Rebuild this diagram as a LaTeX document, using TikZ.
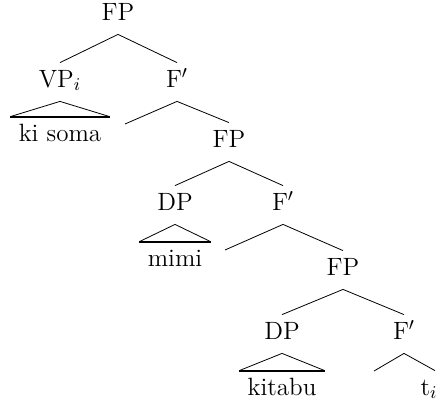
\documentclass[tikz,border=0pt]{standalone}
\usepackage{amsmath}
\usetikzlibrary{positioning,calc}

\begin{document}
\begin{tikzpicture}[x=0.5pt,y=-0.5pt,
        cat/.style={anchor=base, font=\fontsize{12.5}{15}\selectfont, inner ysep=0pt, inner xsep=4pt, text height=12pt, text depth=7pt},
        roof/.style={line width=1.1pt}]
        \useasboundingbox (0,0) rectangle (438,402);
        \clip (0,0) rectangle (438,402);
        % categories
        \node[cat] (fp-1) at (118,20) {FP};
        \node[cat] (vp) at (60,87) {VP$_i$};
        \node[cat] (fbar-1) at (177,87) {F$'$};
        \node[cat] (kisoma) at (60,141) {ki soma};
        \coordinate (f-1) at (125,124);
        \node[cat] (fp-2) at (229,147) {FP};
        \node[cat] (dp-2) at (175,210) {DP};
        \node[cat] (fbar-2) at (283,210) {F$'$};
        \node[cat] (mimi) at (175,266) {mimi};
        \coordinate (f-2) at (225,250);
        \node[cat] (fp-3) at (343,275) {FP};
        \node[cat] (dp-3) at (282,339) {DP};
        \node[cat] (fbar-3) at (404,339) {F$'$};
        \node[cat] (kitabu) at (282,395) {kitabu};
        \coordinate (f-3) at (374,371);
        \node[cat] (t) at (429,395) {t$_i$};
        % branches
        \draw (vp.north) -- (fp-1.south) -- (fbar-1.north);
        \draw (f-1) -- (fbar-1.south) -- (fp-2.north);
        \draw (dp-2.north) -- (fp-2.south) -- (fbar-2.north);
        \draw (f-2) -- (fbar-2.south) -- (fp-3.north);
        \draw (dp-3.north) -- (fp-3.south) -- (fbar-3.north);
        \draw (f-3) -- (fbar-3.south) -- ([xshift=3pt]t.north);
        % roofs
        \draw (kisoma.north west) -- (vp.south) -- (kisoma.north east);
        \draw[roof] (kisoma.north west) -- (kisoma.north east);
        \draw (mimi.north west) -- (dp-2.south) -- (mimi.north east);
        \draw[roof] (mimi.north west) -- (mimi.north east);
        \draw (kitabu.north west) -- (dp-3.south) -- (kitabu.north east);
        \draw[roof] (kitabu.north west) -- (kitabu.north east);
\end{tikzpicture}
\end{document}
